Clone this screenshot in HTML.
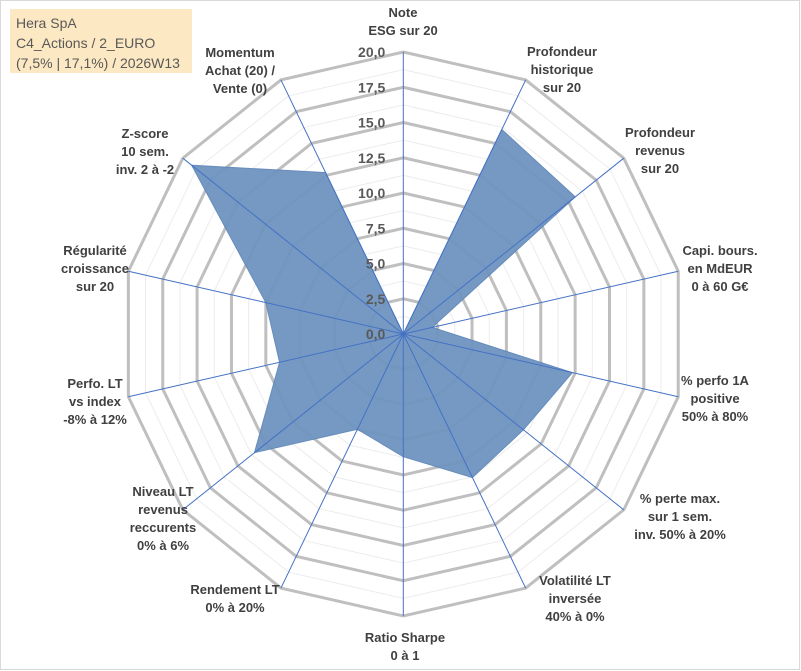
<!DOCTYPE html>
<html><head><meta charset="utf-8"><style>
body{margin:0;background:#fff;font-family:"Liberation Sans",sans-serif}
#wrap{position:relative;width:801px;height:671px;overflow:hidden}
svg text{font-family:"Liberation Sans",sans-serif}
</style></head><body>
<div id="wrap">
<svg id="chart" width="801" height="671">
<rect x="0.5" y="0.5" width="799" height="669" fill="#fff" stroke="#d9d9d9"/>
<rect x="10" y="9" width="182" height="64" fill="#fce8c3"/>
<text x="16" y="28" font-size="14" fill="#595959">Hera SpA</text>
<text x="16" y="48" font-size="14" fill="#595959">C4_Actions / 2_EURO</text>
<text x="16" y="68" font-size="14" fill="#595959">(7,5% | 17,1%) / 2026W13</text>
</svg>
</div>
<script>
const categories=[["Note","ESG sur 20"],["Profondeur","historique","sur 20"],["Profondeur","revenus","sur 20"],["Capi. bours.","en MdEUR","0 à 60 G€"],["% perfo 1A","positive","50% à 80%"],["% perte max.","sur 1 sem.","inv. 50% à 20%"],["Volatilité LT","inversée","40% à 0%"],["Ratio Sharpe","0 à 1"],["Rendement LT","0% à 20%"],["Niveau LT","revenus","reccurents","0% à 6%"],["Perfo. LT","vs index","-8% à 12%"],["Régularité","croissance","sur 20"],["Z-score","10 sem.","inv. 2 à -2"],["Momentum","Achat (20) /","Vente (0)"]];
const values=[0,16.1,15.6,2.1,12.3,10.9,11.3,8.7,7.5,13.5,9,10,19.2,12.7];
const tickLabels=["0,0","2,5","5,0","7,5","10,0","12,5","15,0","17,5","20,0"];
const maxVal=20;
const labelX=[403,562,660,720,715,680,575,405,235,163,95,95,145,240];
const labelY=[17,56,137,255,385,503,585,642,594,496,388,255,138,57];
const cx=403.3,cy=334,R=282,N=categories.length;
const svg=document.getElementById('chart');const NS='http://www.w3.org/2000/svg';
function ang(i){return i*2*Math.PI/N;}
function pt(i,v){const r=v/maxVal*R;return [cx+r*Math.sin(ang(i)),cy-r*Math.cos(ang(i))];}
function mk(t,a){const e=document.createElementNS(NS,t);for(const k in a)e.setAttribute(k,a[k]);svg.appendChild(e);return e;}
for(let k=1;k<=16;k++){const v=k*1.25;const pts=categories.map((c,i)=>pt(i,v).join(',')).join(' ');
const major=k%2===0;
const e=mk('polygon',{points:pts,fill:'none',stroke:major?'#bfbfbf':'#ececec','stroke-width':major?3:1});

}
const dp=mk('polygon',{points:values.map((v,i)=>pt(i,v).join(',')).join(' '),fill:'#6f94c0',stroke:'#5f86b8','stroke-width':1,opacity:0.95});


categories.forEach((c,i)=>{const p=pt(i,maxVal);const l=mk('line',{x1:cx,y1:cy,x2:p[0],y2:p[1],stroke:'#4472c4','stroke-width':1});

});
tickLabels.forEach((t,k)=>{const y=cy-k*2.5/maxVal*R;const e=mk('text',{x:cx-18,y:y+5,'text-anchor':'end','font-size':14,'font-weight':'bold',fill:'#595959'});e.textContent=t;

});
categories.forEach((lines,i)=>{const x=labelX[i],y0=labelY[i];
const t=mk('text',{x:x,y:y0,'text-anchor':'middle','font-size':13,'font-weight':'bold',fill:'#404040'});
lines.forEach((ln,j)=>{const ts=document.createElementNS(NS,'tspan');ts.setAttribute('x',x);ts.setAttribute('y',y0+j*18);ts.textContent=ln;t.appendChild(ts);});

});
</script>
</body></html>
